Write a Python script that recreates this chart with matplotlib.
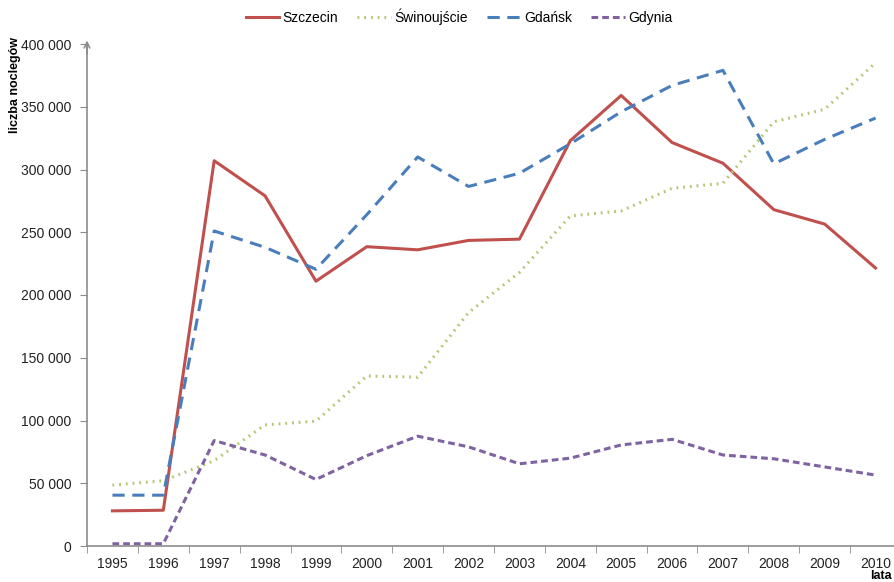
import matplotlib
matplotlib.use("Agg")
import matplotlib.pyplot as plt
from matplotlib.ticker import FixedLocator, FuncFormatter

plt.rcParams['font.family'] = ['Liberation Sans', 'DejaVu Sans']

years = list(range(1995, 2011))
szczecin = [28000, 28500, 307000, 279000, 211000, 238500, 236000, 243500, 244500, 323000,
            359000, 321500, 305000, 268000, 256500, 221500]
swinoujscie = [48500, 52000, 68000, 96500, 99500, 135500, 134500, 186000, 218000, 263000,
               267000, 285000, 289000, 338000, 348000, 385000]
gdansk = [40500, 40500, 251000, 238000, 220500, 264000, 310000, 286500, 297000, 320500,
          346000, 367000, 379000, 304500, 324000, 341000]
gdynia = [1800, 1800, 84000, 72500, 53000, 72000, 87500, 79000, 65500, 70000,
          80500, 85000, 72500, 69500, 63000, 56500]
yticks = [0, 50000, 100000, 150000, 200000, 250000, 300000, 350000, 400000]

fig = plt.figure(figsize=(8.94, 5.82), dpi=100)
ax = fig.add_axes([87/894, 36/582, (901-87)/894, (546-44)/582])

x = list(range(len(years)))
l1, = ax.plot(x, szczecin, color='#C0504D', lw=2.2, label='Szczecin')
l2, = ax.plot(x, swinoujscie, color='#B3C776', lw=2.2, ls=(0, (0.6, 1.6)), label='Świnoujście')
l3, = ax.plot(x, gdansk, color='#4A7EBB', lw=2.2, ls=(0, (4, 2.5)), label='Gdańsk')
l4, = ax.plot(x, gdynia, color='#7E62A1', lw=2.2, ls=(0, (2.2, 1.3)), label='Gdynia')

ax.set_xlim(-0.5, len(years) - 0.5)
ax.set_ylim(0, 400000)
ax.set_xticks(x)
ax.set_xticklabels([str(y) for y in years])
ax.xaxis.set_minor_locator(FixedLocator([i - 0.5 for i in range(len(years) + 1)]))
ax.tick_params(axis='x', which='major', length=0, labelsize=10, colors='#222222', pad=8)
ax.tick_params(axis='x', which='minor', length=5, color='#8c8c8c', direction='out')
ax.set_yticks(yticks)
ax.yaxis.set_major_formatter(FuncFormatter(lambda v, p: f"{int(v):,}".replace(",", " ")))
ax.tick_params(axis='y', length=5, color='#8c8c8c', labelsize=10, labelcolor='#222222', pad=6)

for s in ['top', 'right']:
    ax.spines[s].set_visible(False)
for s in ['left', 'bottom']:
    ax.spines[s].set_color('#8c8c8c')
    ax.spines[s].set_linewidth(1.2)

# arrow at top of y axis
ax.annotate('', xy=(-0.5, 405000), xytext=(-0.5, 390000),
            arrowprops=dict(arrowstyle='->', color='#8c8c8c', lw=1.2),
            annotation_clip=False)

fig.text(15/894, 1 - 85/582, 'liczba noclegów', rotation=90, fontsize=9,
         fontweight='bold', ha='center', va='center')
fig.text(892/894, 1 - 576/582, 'lata', fontsize=9, fontweight='bold', ha='right', va='center')

fig.legend(handles=[l1, l2, l3, l4], loc='center', bbox_to_anchor=(459/894, 1 - 17/582),
           ncol=4, frameon=False, fontsize=10, handlelength=2.4, columnspacing=1.4,
           handletextpad=0.25)

fig.savefig('out.png', dpi=100)
